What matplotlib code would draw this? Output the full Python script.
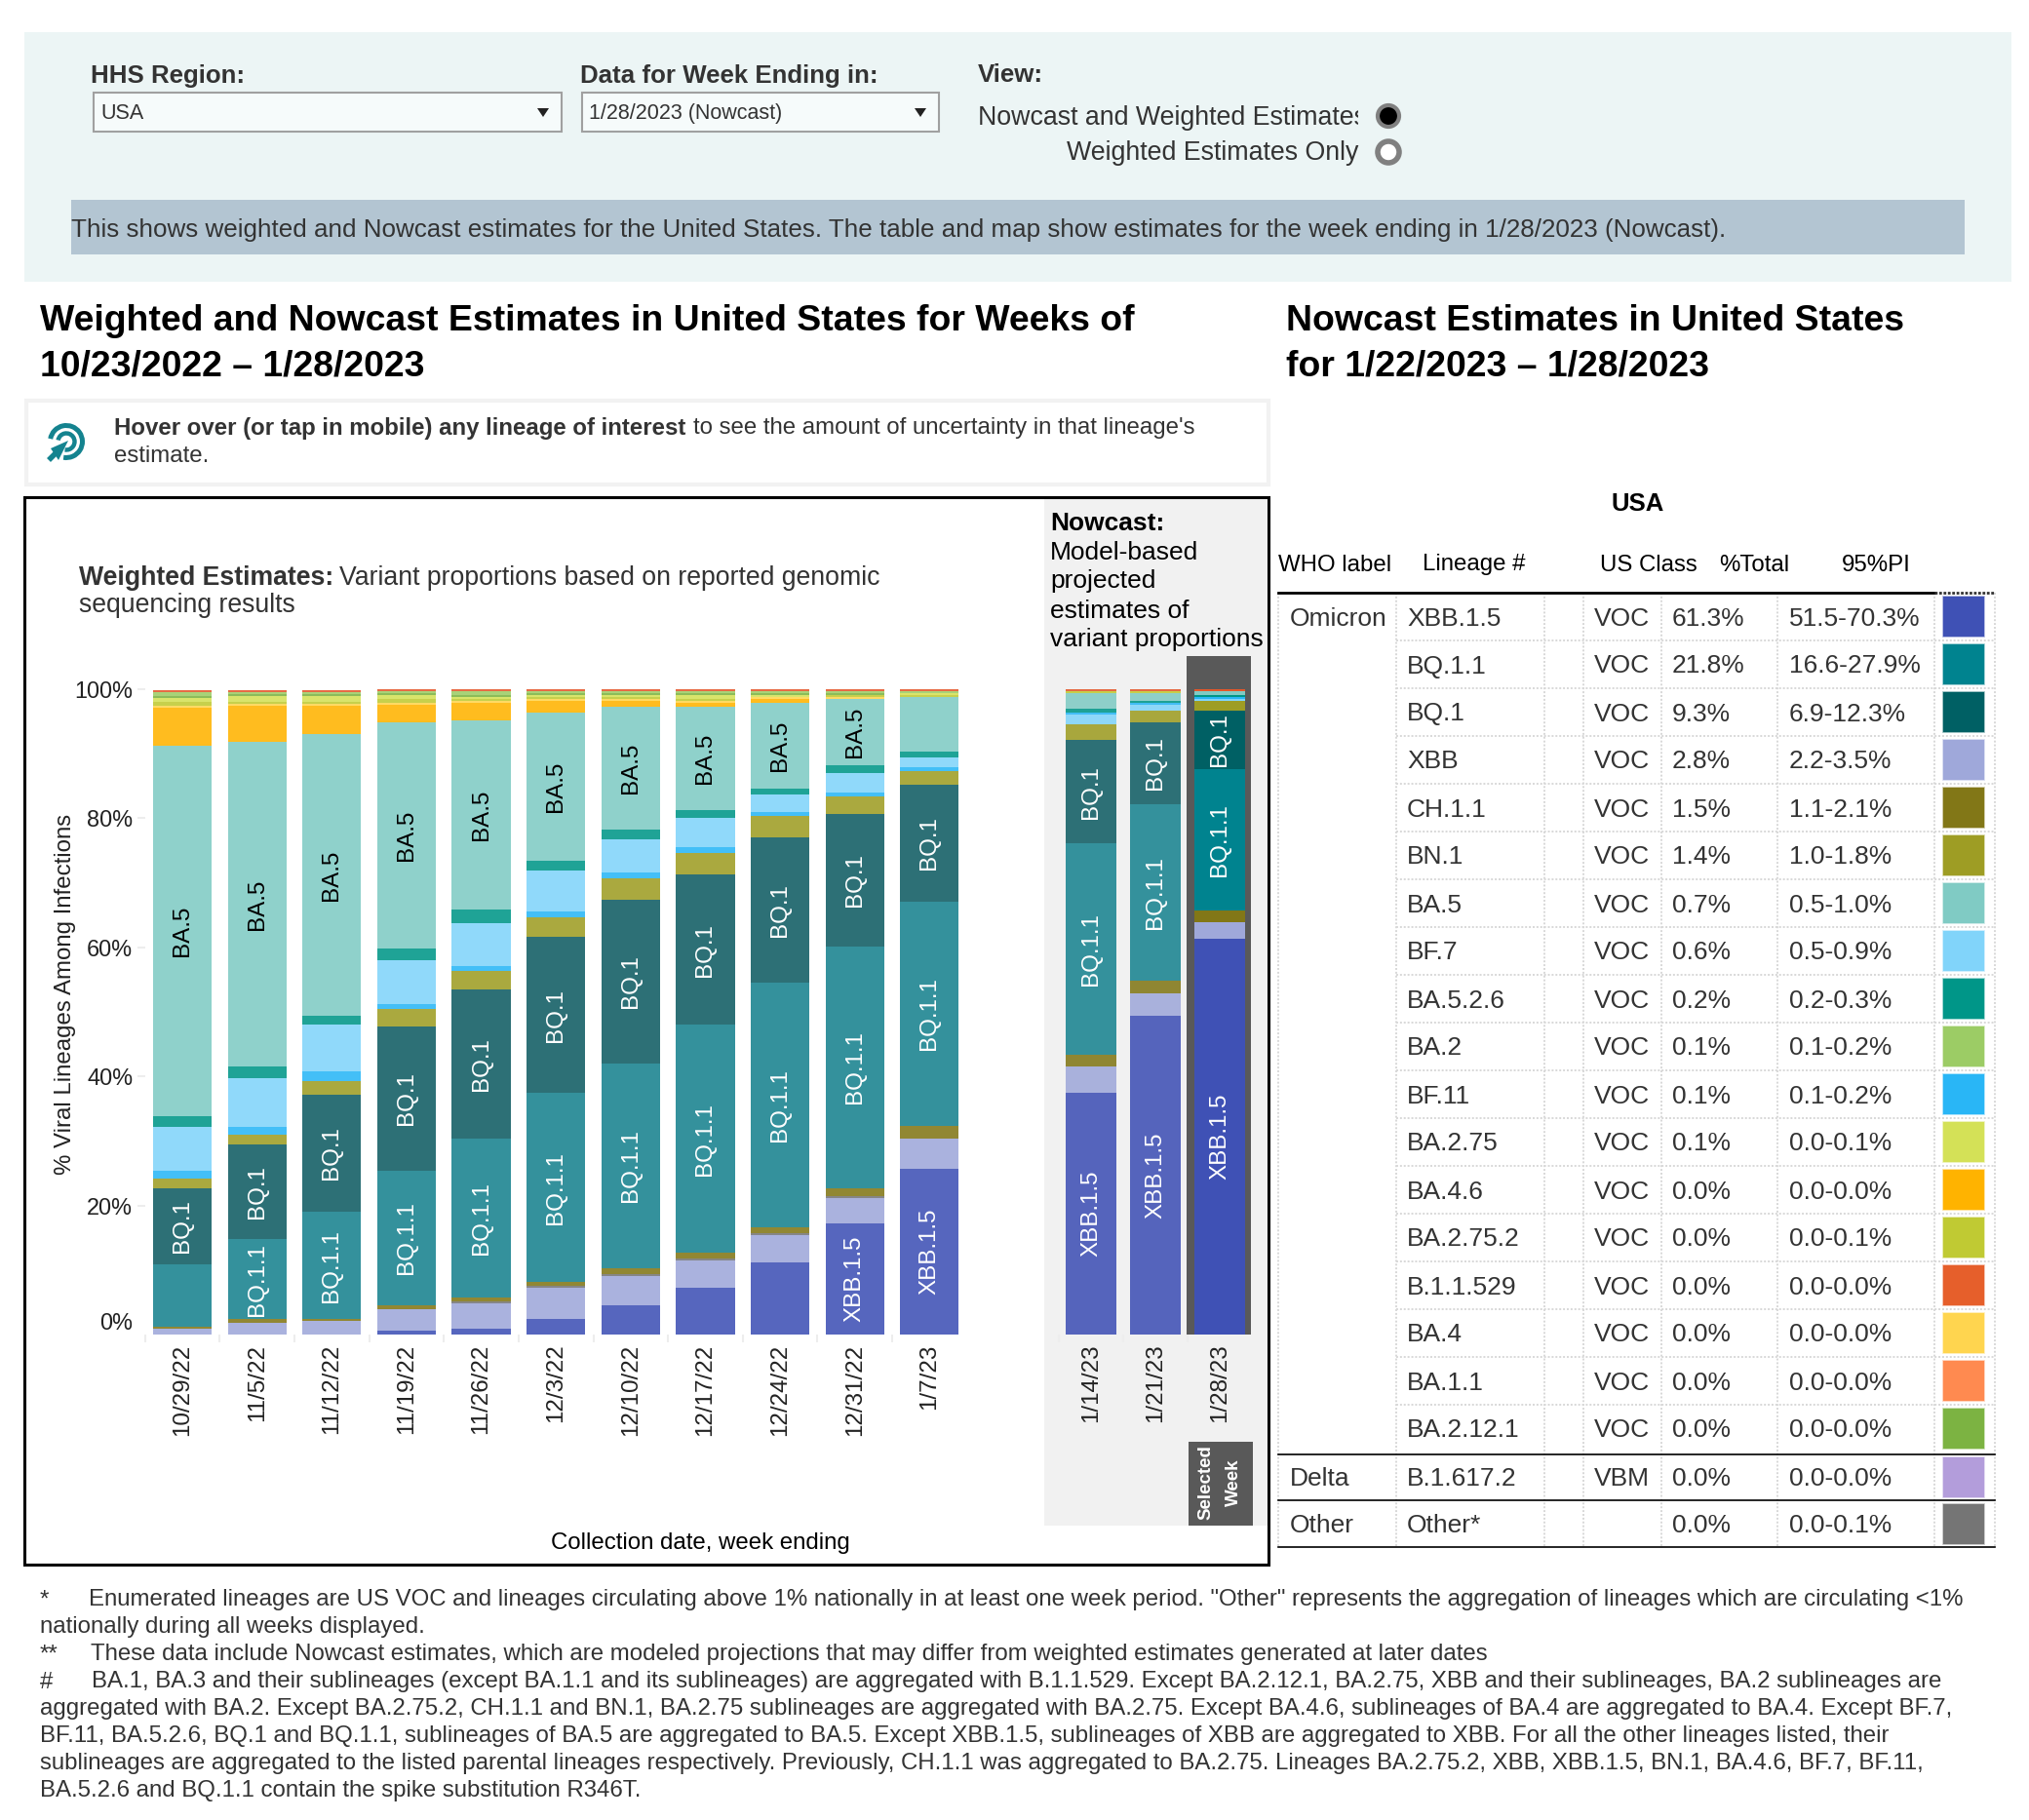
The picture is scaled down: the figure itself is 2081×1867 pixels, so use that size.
import matplotlib
matplotlib.use('Agg')
import matplotlib.pyplot as plt
from matplotlib.colors import to_rgba
from matplotlib.patches import Rectangle, Circle, Arc, Polygon
import numpy as np

plt.rcParams['font.family'] = ['Liberation Sans', 'DejaVu Sans']

W, H = 2081, 1867

# Chart data: one value per week, in percent
weeks = ['10/29/22', '11/5/22', '11/12/22', '11/19/22', '11/26/22', '12/3/22', '12/10/22',
         '12/17/22', '12/24/22', '12/31/22', '1/7/23', '1/14/23', '1/21/23', '1/28/23']

xbb15 = [0, 0, 0, 0.6, 0.9, 2.4, 4.5, 7.3, 11.2, 17.2, 25.7, 37.4, 49.4, 61.3]
xbb = [0.9, 1.8, 2.1, 3.3, 3.9, 4.9, 4.6, 4.2, 4.2, 3.9, 4.7, 4.2, 3.5, 2.6]
other = [0, 0, 0, 0.1, 0.3, 0.3, 0.3, 0.3, 0.3, 0.3, 0, 0, 0, 0]
ch11 = [0.3, 0.6, 0.3, 0.5, 0.6, 0.6, 0.9, 0.9, 0.9, 1.3, 2.0, 1.8, 2.0, 1.8]
bq11 = [9.7, 12.4, 16.6, 20.9, 24.7, 29.2, 31.7, 35.3, 37.9, 37.4, 34.7, 32.7, 27.3, 21.9]
bq1 = [11.8, 14.6, 18.2, 22.4, 23.1, 24.2, 25.4, 23.3, 22.5, 20.6, 18.1, 16.0, 12.7, 9.1]
bn1 = [1.5, 1.6, 2.0, 2.6, 2.8, 3.1, 3.3, 3.3, 3.4, 2.7, 2.1, 2.5, 1.8, 1.5]
bf11 = [1.2, 1.2, 1.6, 0.8, 0.8, 0.9, 0.9, 0.9, 0.6, 0.6, 0.6, 0.3, 0.3, 0.3]
bf7 = [6.8, 7.6, 7.2, 6.8, 6.6, 6.3, 5.1, 4.5, 2.7, 3.0, 1.5, 1.5, 0.9, 0.3]
ba526 = [1.6, 1.8, 1.4, 1.8, 2.2, 1.5, 1.5, 1.3, 0.9, 1.2, 0.9, 0.6, 0.3, 0.3]
ba5 = [57.4, 50.2, 43.6, 35.1, 29.3, 23.0, 19.1, 16.0, 13.3, 10.3, 8.5, 2.4, 1.2, 0.6]
ba46 = [6.0, 5.7, 4.5, 2.7, 2.7, 1.8, 0.9, 0.6, 0.6, 0, 0, 0, 0, 0]
ba4 = [0.3, 0.3, 0.3, 0.3, 0.3, 0.3, 0.3, 0.3, 0.3, 0.3, 0, 0, 0, 0]
ba2752 = [0.6, 0.3, 0.3, 0.6, 0.3, 0.3, 0.3, 0.3, 0, 0.3, 0.3, 0.3, 0.3, 0]
ba275 = [0.6, 0.9, 0.9, 0.6, 0.3, 0.3, 0.3, 0.6, 0.3, 0, 0.3, 0, 0, 0]
ba2121 = [0.3, 0.3, 0.3, 0.3, 0.3, 0.3, 0.3, 0.3, 0.3, 0.3, 0, 0, 0, 0]
ba2 = [0.6, 0.3, 0.3, 0.3, 0.6, 0.3, 0.3, 0.3, 0.3, 0.3, 0.3, 0, 0, 0]
b11529 = [0.3] * 14

series = {
    'XBB.1.5': (xbb15, '#3F51B5'), 'XBB': (xbb, '#9FA8DA'), 'Other': (other, '#757575'),
    'CH.1.1': (ch11, '#827717'), 'BQ.1.1': (bq11, '#00838F'), 'BQ.1': (bq1, '#006064'),
    'BN.1': (bn1, '#9E9D24'), 'BF.11': (bf11, '#29B6F6'), 'BF.7': (bf7, '#81D4FA'),
    'BA.5.2.6': (ba526, '#009688'), 'BA.5': (ba5, '#80CBC4'), 'BA.4.6': (ba46, '#FFB300'),
    'BA.4': (ba4, '#FFD54F'), 'BA.2.75.2': (ba2752, '#C0CA33'), 'BA.2.75': (ba275, '#D4E157'),
    'BA.2.12.1': (ba2121, '#7CB342'), 'BA.2': (ba2, '#9CCC65'), 'B.1.1.529': (b11529, '#E4572A'),
}
# these two come out greyer than the faded base colour on the unselected weeks
faded_override = {'BQ.1.1': '#34919C', 'BQ.1': '#2D7076'}

weighted_order = list(series)
# the Nowcast bars put BF.7 under BF.11
nowcast_order = ['XBB.1.5', 'XBB', 'Other', 'CH.1.1', 'BQ.1.1', 'BQ.1', 'BN.1', 'BF.7', 'BF.11',
                 'BA.5.2.6', 'BA.5', 'BA.4.6', 'BA.4', 'BA.2.75.2', 'BA.2.75', 'BA.2.12.1', 'BA.2', 'B.1.1.529']

# which weeks carry a label inside the bar
labelled = {
    'XBB.1.5': [9, 10, 11, 12, 13],
    'BQ.1.1': [1, 2, 3, 4, 5, 6, 7, 8, 9, 10, 11, 12, 13],
    'BQ.1': list(range(14)),
    'BA.5': list(range(10)),
}

# Table data
who_labels = ['Omicron'] + [''] * 17 + ['Delta', 'Other']
lineages = ['XBB.1.5', 'BQ.1.1', 'BQ.1', 'XBB', 'CH.1.1', 'BN.1', 'BA.5', 'BF.7', 'BA.5.2.6', 'BA.2',
            'BF.11', 'BA.2.75', 'BA.4.6', 'BA.2.75.2', 'B.1.1.529', 'BA.4', 'BA.1.1', 'BA.2.12.1',
            'B.1.617.2', 'Other*']
us_class = ['VOC'] * 18 + ['VBM', '']
pct_total = ['61.3%', '21.8%', '9.3%', '2.8%', '1.5%', '1.4%', '0.7%', '0.6%', '0.2%', '0.1%',
             '0.1%', '0.1%', '0.0%', '0.0%', '0.0%', '0.0%', '0.0%', '0.0%', '0.0%', '0.0%']
pi_95 = ['51.5-70.3%', '16.6-27.9%', '6.9-12.3%', '2.2-3.5%', '1.1-2.1%', '1.0-1.8%', '0.5-1.0%',
         '0.5-0.9%', '0.2-0.3%', '0.1-0.2%', '0.1-0.2%', '0.0-0.1%', '0.0-0.0%', '0.0-0.1%',
         '0.0-0.0%', '0.0-0.0%', '0.0-0.0%', '0.0-0.0%', '0.0-0.0%', '0.0-0.1%']
swatches = ['#3F51B5', '#00838F', '#006064', '#9FA8DA', '#827717', '#9E9D24', '#80CBC4', '#81D4FA',
            '#009688', '#9CCC65', '#29B6F6', '#D4E157', '#FFB300', '#C0CA33', '#E65F2B', '#FFD54F',
            '#FF8A50', '#7CB342', '#B39DDB', '#757575']

footnotes = [
    (41, 1640, '*'),
    (91, 1640, 'Enumerated lineages are US VOC and lineages circulating above 1% nationally in at least one week period. "Other" represents the aggregation of lineages which are circulating <1%'),
    (41, 1668, 'nationally during all weeks displayed.'),
    (41, 1696, '**'),
    (93, 1696, 'These data include Nowcast estimates, which are modeled projections that may differ from weighted estimates generated at later dates'),
    (41, 1724, '#'),
    (94, 1724, 'BA.1, BA.3 and their sublineages (except BA.1.1 and its sublineages) are aggregated with B.1.1.529. Except BA.2.12.1, BA.2.75, XBB and their sublineages, BA.2 sublineages are'),
    (41, 1752, 'aggregated with BA.2. Except BA.2.75.2, CH.1.1 and BN.1, BA.2.75 sublineages are aggregated with BA.2.75. Except BA.4.6, sublineages of BA.4 are aggregated to BA.4. Except BF.7,'),
    (41, 1780, 'BF.11, BA.5.2.6, BQ.1 and BQ.1.1, sublineages of BA.5 are aggregated to BA.5. Except XBB.1.5, sublineages of XBB are aggregated to XBB. For all the other lineages listed, their'),
    (41, 1808, 'sublineages are aggregated to the listed parental lineages respectively. Previously, CH.1.1 was aggregated to BA.2.75. Lineages BA.2.75.2, XBB, XBB.1.5, BN.1, BA.4.6, BF.7, BF.11,'),
    (41, 1836, 'BA.5.2.6 and BQ.1.1 contain the spike substitution R346T.'),
]

fig = plt.figure(figsize=(W / 100, H / 100), dpi=100, facecolor='white')

# Background axes in pixel coordinates, for the page around the charts
bg = fig.add_axes([0, 0, 1, 1])
bg.set_xlim(0, W)
bg.set_ylim(H, 0)
bg.axis('off')


def box(x0, y0, x1, y1, **kw):
    bg.add_patch(Rectangle((x0, y0), x1 - x0, y1 - y0, **kw))


def label(x, y, s, size=18, **kw):
    kw.setdefault('va', 'center')
    kw.setdefault('color', '#333333')
    return bg.text(x, y + 2.5, s, fontsize=size, **kw)


# Filter panel
box(25, 33, 2063, 289, fc='#ECF5F5', ec='none')
label(93, 76, 'HHS Region:', 18.6, fontweight='bold')
label(595, 76, 'Data for Week Ending in:', 18.6, fontweight='bold')
label(1003, 74, 'View:', 18.6, fontweight='bold')
for x0, x1, s in [(96, 576, 'USA'), (597, 963, '1/28/2023 (Nowcast)')]:
    box(x0, 95, x1, 135, fc='#F6FBFB', ec='#A0A0A0', lw=1.5)
    label(x0 + 7, 114, s, 15.5)
    bg.add_patch(Polygon([(x1 - 25, 111), (x1 - 13, 111), (x1 - 19, 120)], fc='#222222', ec='none'))
nowcast_radio = label(1003, 119, 'Nowcast and Weighted Estimates', 19.25)
nowcast_radio.set_clip_path(Rectangle((1003, 90), 390, 60, transform=bg.transData))
nowcast_radio.set_clip_on(True)
label(1393, 155, 'Weighted Estimates Only', 19.25, ha='right')
bg.add_patch(Circle((1424, 119), 11, fc='black', ec='#808080', lw=3))
bg.add_patch(Circle((1424, 156), 11, fc='white', ec='#808080', lw=4))
box(73, 205, 2015, 261, fc='#B3C5D2', ec='none')
label(73, 234, 'This shows weighted and Nowcast estimates for the United States. The table and map show estimates for the week ending in 1/28/2023 (Nowcast).', 18.7)

# Headings
label(41, 327, 'Weighted and Nowcast Estimates in United States for Weeks of', 26.9, fontweight='bold', color='black')
label(41, 373, '10/23/2022 \u2013 1/28/2023', 26.9, fontweight='bold', color='black')
label(1319, 327, 'Nowcast Estimates in United States', 26.9, fontweight='bold', color='black')
label(1319, 373, 'for 1/22/2023 \u2013 1/28/2023', 26.9, fontweight='bold', color='black')

# Hover hint
box(27, 411, 1301, 497, fc='white', ec='#F2F2F2', lw=3)
icon = '#14838F'
bg.add_patch(Arc((68, 453), 33, 33, theta1=190, theta2=460, color=icon, lw=3.6))
bg.add_patch(Arc((68, 453), 17, 17, theta1=190, theta2=460, color=icon, lw=3.2))
bg.plot([50, 60], [472, 462], color=icon, lw=4, solid_capstyle='butt')
bg.add_patch(Polygon([(70, 452), (52, 460), (60, 472)], fc=icon, ec='none'))
hint = label(117, 437, 'Hover over (or tap in mobile) any lineage of interest', 17.3, fontweight='bold')
fig.canvas.draw()
end = bg.transData.inverted().transform((hint.get_window_extent().x1, 0))[0]
label(end + 8, 437, "to see the amount of uncertainty in that lineage's", 17.3)
label(117, 466, 'estimate.', 17.3)

# Chart frame, Nowcast panel
box(25, 510, 1301, 1605, fc='none', ec='black', lw=2.2, zorder=5)
box(1071, 512, 1300, 1565, fc='#F1F1F1', ec='none')
box(1217, 673, 1283, 1369, fc='#595959', ec='none')
box(1219, 1479, 1285, 1565, fc='#595959', ec='none')
label(1251, 1518, 'Selected\nWeek', 13.5, fontweight='bold', color='white', rotation=90,
      ha='center', multialignment='center', linespacing=1.9)

w_text = label(81, 590, 'Weighted Estimates:', 19.2, fontweight='bold')
fig.canvas.draw()
end = bg.transData.inverted().transform((w_text.get_window_extent().x1, 0))[0]
label(end + 6, 590, 'Variant proportions based on reported genomic', 19.2)
label(81, 619, 'sequencing results', 19.2)
label(1077, 534, 'Nowcast:', 19, fontweight='bold', color='black')
for y, s in zip([564, 594, 624, 654], ['Model-based', 'projected', 'estimates of', 'variant proportions']):
    label(1077, y, s, 19, color='black')


def stacked(ax, idx, order, selected=None):
    """Stack the series for the weeks in idx onto ax."""
    bottom = np.zeros(len(idx))
    pos = np.arange(len(idx))
    for name in order:
        vals = np.array(series[name][0], dtype=float)[idx]
        base = series[name][1]
        colors = []
        for i in idx:
            if i == selected:
                colors.append(to_rgba(base))
            elif name in faded_override:
                colors.append(to_rgba(faded_override[name]))
            else:
                colors.append(to_rgba(base, 0.88))
        ax.bar(pos, vals, 0.785, bottom=bottom, color=colors, linewidth=0)
        for p, i in enumerate(idx):
            if i in labelled.get(name, []):
                ax.text(p, bottom[p] + vals[p] / 2, name, rotation=90, ha='center', va='center',
                        fontsize=17.4, color='black' if name == 'BA.5' else 'white')
        bottom += vals
    ax.set_ylim(0, 100)
    ax.set_xlim(-0.5, len(idx) - 0.5)
    ax.patch.set_visible(False)
    for s in ax.spines.values():
        s.set_visible(False)
    ax.set_xticks(pos)
    ax.set_xticklabels([weeks[i] for i in idx], rotation=90, fontsize=17.4, color='#222222')
    ax.tick_params(axis='x', length=0, pad=7)
    ax.set_xticks(pos - 0.5, minor=True)
    ax.tick_params(axis='x', which='minor', length=6, width=1.5, color='#EDEDED')


def chart_axes(x0, x1):
    return fig.add_axes([x0 / W, 1 - 1369 / H, (x1 - x0) / W, (1369 - 707) / H], zorder=2)


ax = chart_axes(148.7, 991.7)
stacked(ax, list(range(11)), weighted_order)
ax.set_yticks([0, 20, 40, 60, 80, 100])
ax.set_yticklabels(['0%', '20%', '40%', '60%', '80%', '100%'], fontsize=16.9, color='#222222')
ax.tick_params(axis='y', length=6, width=1.5, color='#EDEDED', pad=3)
ax.yaxis.get_major_ticks()[0].tick1line.set_visible(False)
ax.yaxis.get_major_ticks()[0].label1.set_va('bottom')
ax.set_ylabel('% Viral Lineages Among Infections', fontsize=17.3, color='#222222')
ax.yaxis.set_label_coords((78 - 148.7) / 843, (1369 - 1020) / 662)
ax.set_xlabel('Collection date, week ending', fontsize=17.3, color='black')
ax.xaxis.set_label_coords((718 - 148.7) / 843, (1369 - 1572) / 662)

ax2 = chart_axes(1086, 1284)
stacked(ax2, [11, 12, 13], nowcast_order, selected=13)
ax2.set_yticks([])

# Table
row_y = [632 + 49.0 * i for i in range(18)] + [1515, 1563]
edges = [608 + 49.0 * i for i in range(18)] + [1491.7, 1539.5, 1587.5]
col_lines = [1311, 1432, 1584, 1624, 1704, 1823, 1984, 2046]

label(1680, 515, 'USA', 18.5, fontweight='bold', color='black', ha='center')
for x, s in zip([1311, 1459, 1641, 1763, 1889], ['WHO label', 'Lineage #', 'US Class', '%Total', '95%PI']):
    label(x, 577, s, 17.3, color='black')

for x in col_lines:
    bg.plot([x, x], [608, 1587.5], color='#D8D8D8', lw=1.4, ls=(0, (1, 1)))
for y in edges[1:18]:
    bg.plot([1432, 2046], [y, y], color='#D8D8D8', lw=1.4, ls=(0, (1, 1)))
bg.plot([1311, 1984], [608, 608], color='black', lw=2)
bg.plot([1984, 2046], [608, 608], color='#333333', lw=2, ls=(0, (1, 0.6)))
for y in edges[18:]:
    bg.plot([1311, 2046], [y, y], color='black', lw=1.2)

for i, y in enumerate(row_y):
    label(1323, y, who_labels[i], 19)
    label(1443, y, lineages[i], 19)
    label(1635, y, us_class[i], 19)
    label(1715, y, pct_total[i], 19)
    label(1835, y, pi_95[i], 19)
    box(1993, y - 20, 2035, y + 21, fc=swatches[i], ec=to_rgba(swatches[i], 0.45), lw=1.2)

# Footnotes
for x, y, s in footnotes:
    label(x, y - 1, s, 17.25)

fig.savefig('out.png', dpi=100)
